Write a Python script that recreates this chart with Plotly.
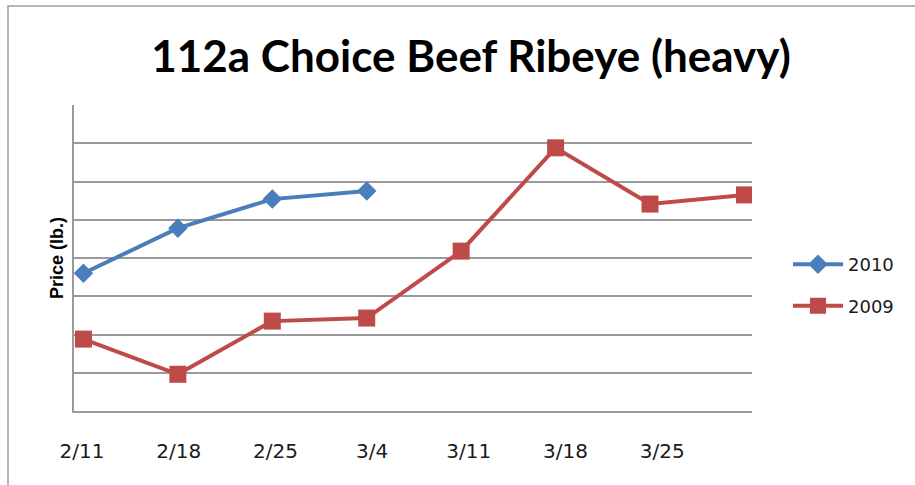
import plotly.graph_objects as go

categories = ["2/11", "2/18", "2/25", "3/4", "3/11", "3/18", "3/25", ""]
tick_labels = ["2/11", "2/18", "2/25", "3/4", "3/11", "3/18", "3/25"]
price_2010 = [3.60, 4.78, 5.54, 5.75]
price_2009 = [1.88, 0.96, 2.35, 2.43, 4.18, 6.88, 5.41, 5.65]

W, H = 915, 485
L, R, T, B = 74, 752, 105, 410.7

fig = go.Figure()
fig.add_trace(go.Scatter(
    x=list(range(len(price_2010))), y=price_2010, name="2010", mode="lines+markers",
    legendgroup="a",
    line=dict(color="#4a7ebb", width=4),
    marker=dict(symbol="diamond", size=15, color="#4a7ebb"),
))
fig.add_trace(go.Scatter(
    x=list(range(len(price_2009))), y=price_2009, name="2009", mode="lines+markers",
    legendgroup="b",
    line=dict(color="#be4b48", width=4),
    marker=dict(symbol="square", size=17, color="#be4b48"),
))
# label carrier on secondary axis
fig.add_trace(go.Scatter(
    x=list(range(len(tick_labels))), y=[None] * len(tick_labels), xaxis="x2",
    showlegend=False, hoverinfo="skip", mode="markers",
))

pw = R - L
ph = B - T
fig.update_layout(
    width=W, height=H,
    margin=dict(l=L, r=W - R, t=T, b=H - B, pad=0),
    paper_bgcolor="white", plot_bgcolor="white",
    title=dict(text="<b>112a Choice Beef Ribeye (heavy)</b>", x=471 / W, xanchor="center",
               y=1 - 57 / H, yanchor="middle",
               font=dict(family="Lato", size=44, color="#000000")),
    xaxis=dict(range=[-0.1, 7.08], showgrid=False, showticklabels=False, ticks="",
               showline=True, linecolor="#9a9a9a", linewidth=1.5, zeroline=False),
    xaxis2=dict(overlaying="x", side="bottom", range=[-8 / 96.7, (R - 82) / 96.7],
                tickvals=list(range(len(tick_labels))), ticktext=tick_labels,
                showgrid=False, showline=False, zeroline=False, ticks="",
                ticklabelstandoff=26,
                tickfont=dict(family="DejaVu Sans", size=20, color="#1a1a1a")),
    yaxis=dict(range=[0, 8], dtick=1, showticklabels=False, ticks="",
               showgrid=True, gridcolor="#9a9a9a", gridwidth=1.5,
               showline=True, linecolor="#9a9a9a", linewidth=1.5, zeroline=False,
               title=dict(text="<b>Price (lb.)</b>", standoff=4,
                          font=dict(family="Liberation Sans", size=18, color="#000000"))),
    legend=dict(x=(788 - L) / pw, y=(B - 246) / ph, xanchor="left", yanchor="top",
                font=dict(family="DejaVu Sans", size=18, color="#1a1a1a"),
                tracegroupgap=15, traceorder="grouped", itemwidth=50,
                bgcolor="rgba(0,0,0,0)"),
    showlegend=True,
)
fig.add_shape(type="rect", xref="paper", yref="paper",
              x0=(8 - L) / pw, x1=(W + 10 - L) / pw,
              y0=(B - (H + 10)) / ph, y1=(B - 6) / ph,
              line=dict(color="#a0a0a0", width=1.5), layer="below")

fig.write_html("out.html", config={"displayModeBar": False},
               post_script="document.body.style.margin='0';")
